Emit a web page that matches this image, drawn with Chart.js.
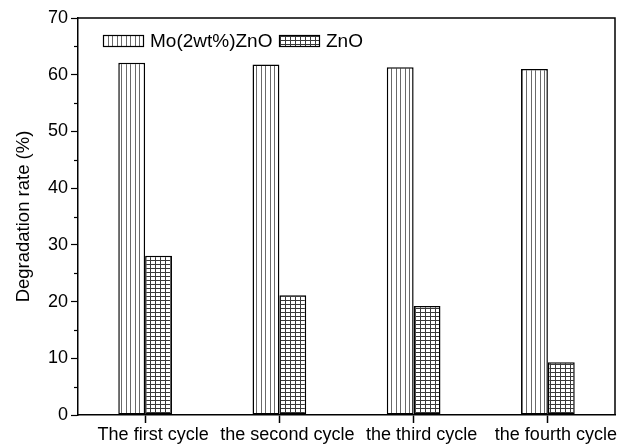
<!DOCTYPE html>
<html>
<head>
<meta charset="utf-8">
<script src="https://cdn.jsdelivr.net/npm/chart.js@4.4.1/dist/chart.umd.min.js"></script>
<style>
  html, body { margin: 0; padding: 0; background: #fff; }
  #wrap { width: 629px; height: 445px; }
</style>
</head>
<body>
<div id="wrap"><canvas id="c" width="629" height="445"></canvas></div>
<script>
// Photocatalytic degradation over repeated cycles
const categories = ['The first cycle', 'the second cycle', 'the third cycle', 'the fourth cycle'];
const seriesNames = ['Mo(2wt%)ZnO', 'ZnO'];
const moZnO = [62.1, 61.8, 61.3, 61.0];
const pureZnO = [28.1, 21.1, 19.2, 9.3];
const yTicks = [0, 10, 20, 30, 40, 50, 60, 70];

const FONT = 'Arial, "Liberation Sans", Helvetica, sans-serif';

// Vertical-line hatch
function verticalHatch(ctx) {
  const t = document.createElement('canvas');
  t.width = 9; t.height = 4;
  const g = t.getContext('2d');
  g.fillStyle = '#fff'; g.fillRect(0, 0, 9, 4);
  g.fillStyle = '#6a6a6a';
  g.fillRect(0, 0, 1, 4);
  g.fillRect(4, 0, 1, 4);
  return ctx.createPattern(t, 'repeat');
}
// Square grid hatch
function gridHatch(ctx) {
  const t = document.createElement('canvas');
  t.width = 5; t.height = 4;
  const g = t.getContext('2d');
  g.fillStyle = '#fff'; g.fillRect(0, 0, 5, 4);
  g.fillStyle = '#3a3a3a';
  g.fillRect(0, 0, 5, 1);
  g.fillRect(0, 0, 1, 4);
  return ctx.createPattern(t, 'repeat');
}

const canvas = document.getElementById('c');
const ctx = canvas.getContext('2d');
const patterns = [verticalHatch(ctx), gridHatch(ctx)];

// Frame around the plot, minor ticks on y, and in-plot legend
const decorations = {
  id: 'decorations',
  afterDraw(chart) {
    const c = chart.ctx;
    const a = chart.chartArea;
    const y = chart.scales.y;
    c.save();
    c.strokeStyle = '#000';
    c.lineWidth = 1.5;
    c.beginPath();
    c.moveTo(a.left, a.top); c.lineTo(a.right, a.top); c.lineTo(a.right, a.bottom);
    c.stroke();
    // minor ticks
    c.lineWidth = 1.2;
    for (let v = 5; v < 70; v += 10) {
      const py = Math.round(y.getPixelForValue(v)) + 0.5;
      c.beginPath();
      c.moveTo(a.left - 4, py); c.lineTo(a.left, py);
      c.stroke();
    }
    // legend
    const items = [
      { x: 103, tx: 150 },
      { x: 279, tx: 326 }
    ];
    c.font = '19px ' + FONT;
    c.textBaseline = 'middle';
    c.fillStyle = '#000';
    chart.data.datasets.forEach((ds, i) => {
      const it = items[i];
      c.fillStyle = ds.backgroundColor;
      c.fillRect(it.x, 35, 41, 12);
      c.lineWidth = 1.2;
      c.strokeStyle = '#000';
      c.strokeRect(it.x + 0.5, 35.5, 40, 11);
      c.fillStyle = '#000';
      c.fillText(ds.label, it.tx, 42);
    });
    c.restore();
  }
};

new Chart(canvas, {
  type: 'bar',
  data: {
    labels: categories,
    datasets: [
      { label: seriesNames[0], data: moZnO, backgroundColor: patterns[0], borderColor: '#000', borderWidth: 1.5, borderSkipped: false },
      { label: seriesNames[1], data: pureZnO, backgroundColor: patterns[1], borderColor: '#000', borderWidth: 1.5, borderSkipped: false }
    ]
  },
  options: {
    responsive: false,
    animation: false,
    events: [],
    devicePixelRatio: 1,
    layout: { padding: { left: 0, right: 14, top: 18, bottom: 0 } },
    datasets: { bar: { categoryPercentage: 0.4, barPercentage: 1.0 } },
    plugins: { legend: { display: false }, tooltip: { enabled: false } },
    scales: {
      x: {
        offset: true,
        grid: { offset: false, drawOnChartArea: false, tickLength: 8, color: '#000', tickWidth: 1.5 },
        border: { color: '#000', width: 1.5 },
        ticks: { color: '#000', font: { family: FONT, size: 18 }, padding: 1, labelOffset: 8, maxRotation: 0, autoSkip: false },
        afterFit(s) { s.height = 30; }
      },
      y: {
        min: 0, max: 70,
        afterBuildTicks(s) { s.ticks = yTicks.map(v => ({ value: v })); },
        grid: { drawOnChartArea: false, tickLength: 7, color: '#000', tickWidth: 1.2 },
        border: { color: '#000', width: 1.5 },
        ticks: { color: '#000', font: { family: FONT, size: 18 }, padding: 3 },
        title: { display: true, text: 'Degradation rate (%)', color: '#000', font: { family: FONT, size: 18.5 }, padding: { top: 13, bottom: 0 } },
        afterFit(s) { s.width = 78; }
      }
    }
  },
  plugins: [decorations]
});
</script>
</body>
</html>
